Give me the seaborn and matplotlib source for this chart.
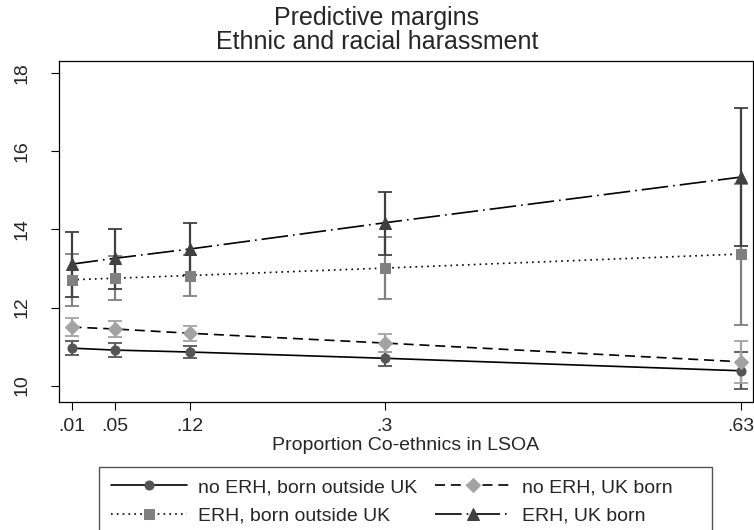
import numpy as np
import pandas as pd
import matplotlib
matplotlib.use("Agg")
import matplotlib.pyplot as plt
from matplotlib.patches import Rectangle
import seaborn as sns

# Proportion co-ethnics (x positions)
prop = [0.01, 0.05, 0.12, 0.3, 0.63]
tick_labels = [".01", ".05", ".12", ".3", ".63"]

# predictive margins, with lower / upper CI
no_erh_out = [10.96, 10.91, 10.86, 10.70, 10.38]
no_erh_out_lo = [10.78, 10.74, 10.70, 10.50, 9.92]
no_erh_out_hi = [11.15, 11.08, 11.02, 10.87, 10.85]

no_erh_uk = [11.50, 11.45, 11.34, 11.09, 10.61]
no_erh_uk_lo = [11.26, 11.25, 11.15, 10.86, 10.07]
no_erh_uk_hi = [11.74, 11.65, 11.53, 11.32, 11.15]

erh_out = [12.71, 12.75, 12.82, 13.01, 13.37]
erh_out_lo = [12.05, 12.18, 12.29, 12.23, 11.56]
erh_out_hi = [13.37, 13.33, 13.35, 13.80, 15.17]

erh_uk = [13.11, 13.26, 13.50, 14.17, 15.34]
erh_uk_lo = [12.26, 12.48, 12.83, 13.35, 13.58]
erh_uk_hi = [13.94, 14.01, 14.17, 14.97, 17.10]

series = [
    ("no ERH, born outside UK", no_erh_out, no_erh_out_lo, no_erh_out_hi, "o", "#555555", "-", 6.5),
    ("ERH, born outside UK", erh_out, erh_out_lo, erh_out_hi, "s", "#808080", (0, (1, 2.5)), 7.2),
    ("no ERH, UK born", no_erh_uk, no_erh_uk_lo, no_erh_uk_hi, "D", "#a3a3a3", (0, (6, 3.5)), 7.5),
    ("ERH, UK born", erh_uk, erh_uk_lo, erh_uk_hi, "^", "#404040", (0, (16, 3, 1, 3)), 8.5),
]

sns.set_style("white")
plt.rcParams['font.family'] = ['Liberation Sans', 'DejaVu Sans']

fig = plt.figure(figsize=(7.54, 5.30), dpi=100)
ax = fig.add_axes([0.078, 0.2415, 0.9207, 0.6435])

handles = []
for label, y, lo, hi, mk, col, ls, ms in series:
    df = pd.DataFrame({"x": prop, "y": y})
    yerr = [np.array(y) - np.array(lo), np.array(hi) - np.array(y)]
    ax.errorbar(prop, y, yerr=yerr, fmt="none", ecolor=col, elinewidth=1.6,
                capsize=5, capthick=1.3, zorder=2)
    sns.lineplot(data=df, x="x", y="y", ax=ax, color="black", linestyle=ls,
                 linewidth=1.2, marker=mk, markersize=ms, markerfacecolor=col,
                 markeredgecolor=col, zorder=3)
    handles.append((ax.lines[-1], label))

ax.set_xlim(-0.0018, 0.6414)
ax.set_ylim(9.58, 18.315)
ax.set_xticks(prop)
ax.set_xticklabels(tick_labels)
ax.set_yticks([10, 12, 14, 16, 18])
ax.set_yticklabels(["10", "12", "14", "16", "18"], rotation=90, va="center")
ax.tick_params(axis="x", direction="out", length=5.5, width=0.8, color="black",
               labelsize=14, bottom=True, pad=6)
ax.tick_params(axis="y", direction="out", length=5.5, width=0.8, color="black",
               labelsize=14, left=True, pad=15)
for s in ax.spines.values():
    s.set_color("black")
    s.set_linewidth(0.9)
ax.set_xlabel("Proportion Co-ethnics in LSOA", fontsize=14, labelpad=1.5)
ax.set_ylabel("")

fig.text(0.5, 0.989, "Predictive margins\nEthnic and racial harassment",
         ha="center", va="top", fontsize=18, linespacing=1.03)

# legend box (runs off the bottom edge like the original)
fig.patches.append(Rectangle((99 / 754, -10 / 530), 613 / 754, 73 / 530,
                             transform=fig.transFigure, facecolor="white",
                             edgecolor="#555555", linewidth=1.0, zorder=1))
leg = fig.legend([h for h, _ in handles], [l for _, l in handles], ncol=2,
                 loc="upper left", bbox_to_anchor=(99 / 754, 1 - 467 / 530),
                 fontsize=14, frameon=False,
                 handlelength=3.9, handletextpad=0.6, columnspacing=0.9,
                 labelspacing=0.55, borderpad=0.6, borderaxespad=0)

fig.savefig("out.png", dpi=100)
